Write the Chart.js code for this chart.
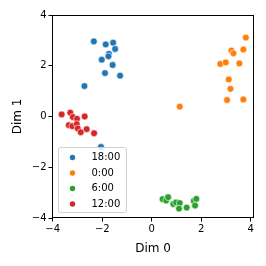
<!DOCTYPE html>
<html>
<head>
<meta charset="utf-8">
<script src="https://cdn.jsdelivr.net/npm/chart.js@4"></script>
<style>
  html, body { margin: 0; padding: 0; background: #fff; }
  #wrap { width: 266px; height: 266px; }
</style>
</head>
<body>
<div id="wrap"><canvas id="chart" width="266" height="266"></canvas></div>
<script>
// - - - - - - - - - - dados - - - - - - - - - -
const grupos = ['18:00', '0:00', '6:00', '12:00'];
const cores = ['#1f77b4', '#ff7f0e', '#2ca02c', '#d62728'];

const x_18h = [-2.34, -1.86, -1.56, -1.48, -1.73, -1.75, -2.02, -1.58, -1.89, -1.28, -2.72, -2.05];
const y_18h = [2.96, 2.84, 2.91, 2.66, 2.47, 2.37, 2.24, 2.03, 1.71, 1.61, 1.20, -1.20];

const x_0h = [3.80, 3.22, 3.30, 3.70, 2.77, 2.99, 3.54, 3.11, 3.18, 3.04, 3.70, 1.13];
const y_0h = [3.11, 2.60, 2.49, 2.64, 2.07, 2.13, 2.09, 1.46, 1.09, 0.65, 0.67, 0.39];

const x_6h = [0.44, 0.58, 0.66, 0.87, 0.98, 1.13, 1.10, 1.41, 1.70, 1.80, 1.75];
const y_6h = [-3.26, -3.31, -3.18, -3.45, -3.39, -3.41, -3.63, -3.59, -3.33, -3.25, -3.51];

const x_12h = [-3.64, -3.29, -3.19, -3.02, -2.71, -3.35, -3.21, -3.03, -2.99, -2.87, -2.63, -2.33];
const y_12h = [0.08, 0.15, -0.02, -0.09, 0.00, -0.34, -0.38, -0.30, -0.47, -0.62, -0.50, -0.66];

const ticks_x = [-4, -2, 0, 2, 4];
const ticks_y = [-4, -2, 0, 2, 4];

const fonte = 'DejaVu Sans';

function pontos(xs, ys) {
    return xs.map((v, i) => ({x: v, y: ys[i]}));
}

const series = [pontos(x_18h, y_18h), pontos(x_0h, y_0h), pontos(x_6h, y_6h), pontos(x_12h, y_12h)];

// legenda dentro da área do gráfico (canto inferior esquerdo)
const legendaInterna = {
    id: 'legendaInterna',
    afterDraw(chart) {
        const ctx = chart.ctx;
        const a = chart.chartArea;
        const bx = a.left + 6.5, by = a.bottom - 70.5, bw = 68, bh = 65;
        ctx.save();
        ctx.beginPath();
        ctx.roundRect(bx, by, bw, bh, 2.5);
        ctx.fillStyle = 'rgba(255,255,255,0.8)';
        ctx.fill();
        ctx.strokeStyle = '#d0d0d0';
        ctx.lineWidth = 1;
        ctx.stroke();
        ctx.font = '10px "' + fonte + '"';
        ctx.textBaseline = 'middle';
        ctx.fillStyle = '#000';
        chart.data.datasets.forEach((ds, i) => {
            const yy = by + 10 + i * 15.5;
            ctx.beginPath();
            ctx.arc(bx + 14, yy, 2.7, 0, Math.PI * 2);
            ctx.fillStyle = ds.backgroundColor;
            ctx.fill();
            ctx.fillStyle = '#000';
            ctx.fillText(ds.label, bx + 33, yy);
        });
        ctx.restore();
    }
};

// moldura completa (4 lados)
const moldura = {
    id: 'moldura',
    afterDatasetsDraw(chart) {
        const ctx = chart.ctx;
        const a = chart.chartArea;
        ctx.save();
        ctx.strokeStyle = '#000';
        ctx.lineWidth = 1;
        ctx.strokeRect(a.left + 0.5, a.top + 0.5, a.right - a.left - 1, a.bottom - a.top - 1);
        ctx.restore();
    }
};

const ctx_grafico = document.getElementById('chart').getContext('2d');

const grafico = new Chart(ctx_grafico, {
    type: 'scatter',
    data: {
        datasets: grupos.map((g, i) => ({
            label: g,
            data: series[i],
            backgroundColor: cores[i],
            borderColor: '#fff',
            borderWidth: 0.6,
            pointRadius: 3.4,
            pointHoverRadius: 3.4
        }))
    },
    options: {
        responsive: false,
        animation: false,
        events: [],
        layout: {padding: {top: 15, right: 12, bottom: 0, left: 0}},
        scales: {
            x: {
                type: 'linear',
                min: -4.03,
                max: 4.13,
                afterBuildTicks: (s) => { s.ticks = ticks_x.map(v => ({value: v})); },
                afterFit: (s) => { s.height = 48; },
                ticks: {
                    color: '#000',
                    padding: 1.5,
                    font: {family: fonte, size: 10},
                    callback: (v) => (v < 0 ? '\u2212' + Math.abs(v) : String(v))
                },
                grid: {display: true, drawOnChartArea: false, drawTicks: true, tickLength: 3.5, color: '#000'},
                border: {display: false},
                title: {display: true, text: 'Dim 0', color: '#000', font: {family: fonte, size: 12}, padding: {top: 0, bottom: 10}}
            },
            y: {
                type: 'linear',
                min: -4,
                max: 4,
                afterBuildTicks: (s) => { s.ticks = ticks_y.map(v => ({value: v})); },
                afterFit: (s) => { s.width = 52; },
                ticks: {
                    color: '#000',
                    padding: 2,
                    font: {family: fonte, size: 10},
                    callback: (v) => (v < 0 ? '\u2212' + Math.abs(v) : String(v))
                },
                grid: {display: true, drawOnChartArea: false, drawTicks: true, tickLength: 3.5, color: '#000'},
                border: {display: false},
                title: {display: true, text: 'Dim 1', color: '#000', font: {family: fonte, size: 12}, padding: {top: 11, bottom: 0}}
            }
        },
        plugins: {
            legend: {display: false},
            tooltip: {enabled: false}
        }
    },
    plugins: [moldura, legendaInterna]
});
</script>
</body>
</html>
